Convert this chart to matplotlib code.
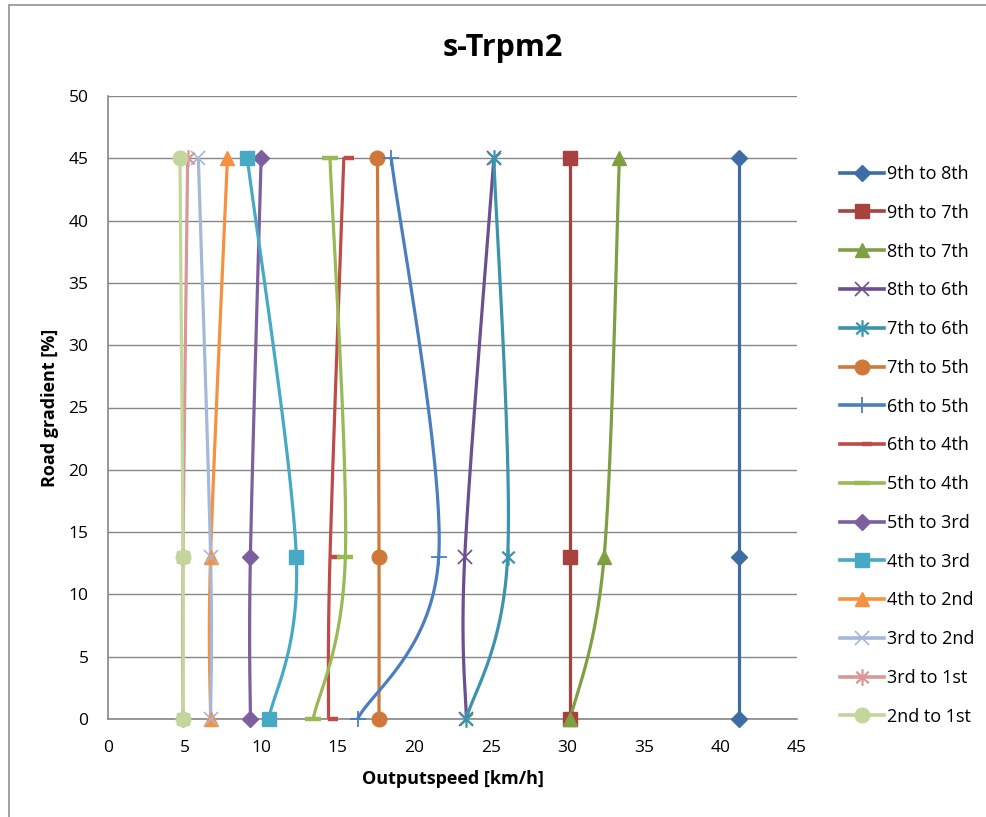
import numpy as np
import matplotlib
matplotlib.use("Agg")
import matplotlib.pyplot as plt
from matplotlib.path import Path
from matplotlib.patches import Rectangle

plt.rcParams['font.family'] = ['Open Sans', 'DejaVu Sans']

# Road gradients at which the shift speeds were evaluated [%]
gradients = [0, 13, 45]

# Shift speeds [km/h] at each gradient
series_names = ["9th to 8th", "9th to 7th", "8th to 7th", "8th to 6th", "7th to 6th",
                "7th to 5th", "6th to 5th", "6th to 4th", "5th to 4th", "5th to 3rd",
                "4th to 3rd", "4th to 2nd", "3rd to 2nd", "3rd to 1st", "2nd to 1st"]
speed_9_8 = [41.2, 41.2, 41.2]
speed_9_7 = [30.2, 30.2, 30.2]
speed_8_7 = [30.2, 32.4, 33.4]
speed_8_6 = [23.4, 23.3, 25.2]
speed_7_6 = [23.4, 26.1, 25.2]
speed_7_5 = [17.7, 17.7, 17.6]
speed_6_5 = [16.3, 21.6, 18.5]
speed_6_4 = [14.4, 14.5, 15.4]
speed_5_4 = [13.4, 15.5, 14.5]
speed_5_3 = [9.3, 9.3, 10.0]
speed_4_3 = [10.5, 12.3, 9.1]
speed_4_2 = [6.7, 6.7, 7.8]
speed_3_2 = [6.7, 6.7, 5.9]
speed_3_1 = [4.9, 4.9, 5.2]
speed_2_1 = [4.9, 4.9, 4.7]
speeds = [speed_9_8, speed_9_7, speed_8_7, speed_8_6, speed_7_6, speed_7_5, speed_6_5,
          speed_6_4, speed_5_4, speed_5_3, speed_4_3, speed_4_2, speed_3_2, speed_3_1,
          speed_2_1]

colors = ["#3E6DA6", "#A7423F", "#7E9F42", "#6B4F8E", "#3A94AC", "#D0783A", "#4A7EBF",
          "#BE4B48", "#98B954", "#7D5FA0", "#47A9C4", "#F6913F", "#A5B8DA", "#D99795",
          "#C3D69B"]

# Custom marker shapes
star = Path([(0, -1), (0, 1), (-0.75, -0.7), (0.75, 0.7), (-0.75, 0.7), (0.75, -0.7)],
            [Path.MOVETO, Path.LINETO, Path.MOVETO, Path.LINETO, Path.MOVETO, Path.LINETO])
short_dash = Path([(0, 0), (1, 0)], [Path.MOVETO, Path.LINETO])

markers = [
    dict(marker="D", markersize=8),
    dict(marker="s", markersize=10.5),
    dict(marker="^", markersize=10.5),
    dict(marker="x", markersize=10, markeredgewidth=1.2),
    dict(marker=star, markersize=12, markeredgewidth=1.6),
    dict(marker="o", markersize=10.5),
    dict(marker="+", markersize=11, markeredgewidth=1.3),
    dict(marker=short_dash, markersize=14, markeredgewidth=3.2),
    dict(marker="_", markersize=12, markeredgewidth=3.2),
    dict(marker="D", markersize=8),
    dict(marker="s", markersize=10.5),
    dict(marker="^", markersize=10.5),
    dict(marker="x", markersize=10, markeredgewidth=1.2),
    dict(marker=star, markersize=12, markeredgewidth=1.6),
    dict(marker="o", markersize=10.5),
]

W, H = 986, 817
fig = plt.figure(figsize=(W / 100, H / 100), dpi=100)
ax = fig.add_axes([108 / W, 1 - 719 / H, 689 / W, 623 / H])

# pixel scale of the axes, used to smooth the curves in screen space
sx = 689 / 45.0
sy = 623 / 50.0


def smooth(xs, ys, n=60):
    pts = np.column_stack([np.asarray(xs) * sx, np.asarray(ys) * sy])
    ext = np.vstack([pts[0], pts, pts[-1]])
    out = []
    t = np.linspace(0, 1, n)[:, None]
    for i in range(len(pts) - 1):
        p0, p1, p2, p3 = ext[i], ext[i + 1], ext[i + 2], ext[i + 3]
        c1 = p1 + (p2 - p0) / 6.0
        c2 = p2 - (p3 - p1) / 6.0
        seg = ((1 - t) ** 3) * p1 + 3 * ((1 - t) ** 2) * t * c1 + 3 * (1 - t) * t ** 2 * c2 + t ** 3 * p2
        out.append(seg if i == 0 else seg[1:])
    out = np.vstack(out)
    return out[:, 0] / sx, out[:, 1] / sy


handles = []
for name, xs, col, mk in zip(series_names, speeds, colors, markers):
    cx, cy = smooth(xs, gradients)
    ax.plot(cx, cy, color=col, lw=2.3, solid_capstyle="round", zorder=2)
    mkw = dict(mk)
    mkw.setdefault("markeredgewidth", 1.0)
    ax.plot(xs, gradients, linestyle="none", color=col, markerfacecolor=col,
            markeredgecolor=col, zorder=3, clip_on=False, **mkw)
    h, = ax.plot([], [], color=col, lw=2.6, markerfacecolor=col, markeredgecolor=col,
                 label=name, **mkw)
    handles.append(h)

ax.set_xlim(0, 45)
ax.set_ylim(0, 50)
ax.set_xticks(np.arange(0, 46, 5))
ax.set_yticks(np.arange(0, 51, 5))
ax.tick_params(length=0, labelsize=12.5, colors="#000000")
ax.tick_params(axis="x", pad=15)
ax.tick_params(axis="y", pad=14)
ax.grid(axis="y", color="#868686", lw=1)
ax.set_axisbelow(True)
for s in ["top", "right"]:
    ax.spines[s].set_visible(False)
for s in ["left", "bottom"]:
    ax.spines[s].set_color("#868686")
    ax.spines[s].set_linewidth(1.2)

ax.set_xlabel("Outputspeed [km/h]", fontsize=13, fontweight="bold", labelpad=10)
ax.set_ylabel("Road gradient [%]", fontsize=13, fontweight="bold", labelpad=7)
fig.text(503 / W, 1 - 48 / H, "s-Trpm2", ha="center", va="center", fontsize=22,
         fontweight="bold")

leg = ax.legend(handles=handles, loc="upper left",
                bbox_to_anchor=(840 / W, 1 - 165 / H), bbox_transform=fig.transFigure,
                frameon=False, fontsize=13, handlelength=2.45, handletextpad=0.15,
                labelspacing=1.15, borderaxespad=0, borderpad=0)

# outer chart frame
fig.add_artist(Rectangle((8.5 / W, -0.05), 1.2, 1 - 4.5 / H + 0.05,
                         transform=fig.transFigure, fill=False, edgecolor="#9a9a9a",
                         lw=1.3))

fig.savefig("out.png", dpi=100)
